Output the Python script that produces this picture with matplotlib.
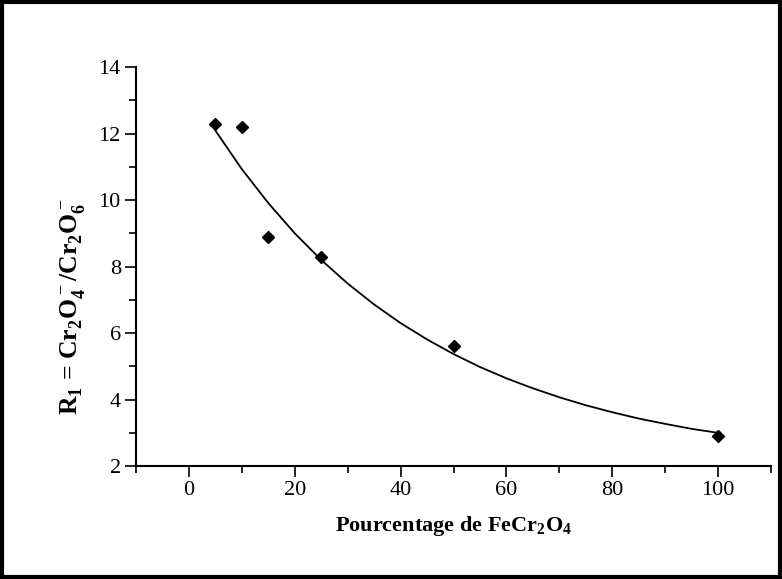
import matplotlib.pyplot as plt
from matplotlib.patches import Rectangle
from matplotlib.ticker import MultipleLocator

# measured points
pct_fe = [5, 10, 15, 25, 50, 100]
ratio_r1 = [12.3, 12.2, 8.9, 8.3, 5.6, 2.9]

# fitted curve
fit_x = [5, 10, 15, 20, 25, 30, 35, 40, 45, 50, 55, 60, 65, 70, 75, 80, 85, 90, 95, 100]
fit_y = [12.09, 10.93, 9.91, 9.0, 8.2, 7.49, 6.86, 6.3, 5.81, 5.37, 4.98, 4.64, 4.34,
         4.07, 3.83, 3.62, 3.43, 3.27, 3.12, 3.0]

plt.rcParams['font.family'] = ['Liberation Serif', 'DejaVu Serif']
plt.rcParams['mathtext.fontset'] = 'custom'
plt.rcParams['mathtext.rm'] = 'Liberation Serif'
plt.rcParams['mathtext.bf'] = 'Liberation Serif:bold'

fig = plt.figure(figsize=(7.82, 5.79), dpi=100)
ax = fig.add_axes([0.174, 0.195, 0.812, 0.689])

ax.plot(fit_x, fit_y, color='black', lw=1.3, solid_joinstyle='round')
ax.plot(pct_fe, ratio_r1, 'D', color='black', ms=6.5, zorder=3)

ax.set_xlim(-10, 110)
ax.set_ylim(2, 14)
ax.xaxis.set_major_locator(MultipleLocator(20))
ax.xaxis.set_minor_locator(MultipleLocator(10))
ax.yaxis.set_major_locator(MultipleLocator(2))
ax.yaxis.set_minor_locator(MultipleLocator(1))
ax.tick_params(which='major', direction='out', length=8, width=1.2, labelsize=16, pad=3)
ax.tick_params(which='minor', direction='out', length=5, width=1.2)
for s in ['top', 'right']:
    ax.spines[s].set_visible(False)
for s in ['left', 'bottom']:
    ax.spines[s].set_linewidth(1.5)

ax.set_xlabel(r'Pourcentage de FeCr$_\mathbf{2}$O$_\mathbf{4}$', fontsize=16, fontweight='bold', labelpad=10)
ax.set_ylabel(r'R$_\mathbf{1}$ = Cr$_\mathbf{2}$O$_\mathbf{4}^-$/Cr$_\mathbf{2}$O$_\mathbf{6}^-$', fontsize=18.5, fontweight='bold')
ax.yaxis.set_label_coords(-0.078, 0.40)

fig.patches.append(Rectangle((0.003, 0.004), 0.994, 0.992, transform=fig.transFigure,
                             fill=False, edgecolor='black', lw=3))

fig.savefig('out.png', dpi=100)
